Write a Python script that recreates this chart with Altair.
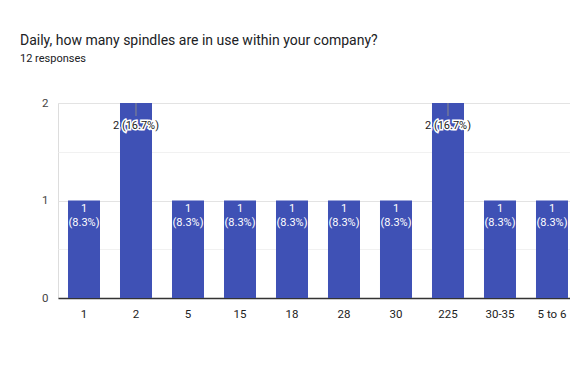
import altair as alt
import pandas as pd

categories = ["1", "2", "5", "15", "18", "28", "30", "225", "30-35", "5 to 6"]
counts = [1, 2, 1, 1, 1, 1, 1, 2, 1, 1]
total = 12
title_text = "Daily, how many spindles are in use within your company?"
subtitle_text = "12 responses"

rows = []
for c, n in zip(categories, counts):
    pct = f"{n / total * 100:.1f}%"
    rows.append({
        "cat": c,
        "n": n,
        "inside": [str(n), f"({pct})"] if n == 1 else "",
        "outside": f"{n} ({pct})" if n == 2 else "",
    })
df = pd.DataFrame(rows)

FONT = "Roboto"
x = alt.X("cat:N", sort=categories, title=None,
          scale=alt.Scale(paddingInner=0.3846, paddingOuter=0.1154, align=0.833),
          axis=alt.Axis(labelAngle=0, labelFontSize=11.5, labelColor="#222222", labelFont=FONT,
                        ticks=False, domainColor="#333333", domainWidth=1.5, labelPadding=10))
y = alt.Y("n:Q", title=None,
          scale=alt.Scale(domain=[0, 2], nice=False),
          axis=alt.Axis(values=[0, 0.5, 1, 1.5, 2],
                        labelExpr="datum.value % 1 == 0 ? format(datum.value, 'd') : ''",
                        labelFontSize=11.5, labelColor="#444444", labelFont=FONT, ticks=False, domain=False,
                        gridColor={"condition": {"test": "datum.value % 1 == 0", "value": "#e3e3e3"},
                                   "value": "#f1f1f1"},
                        labelPadding=10))

base = alt.Chart(df)
bars = base.mark_bar(color="#3f51b5").encode(x=x, y=y)

inside = base.transform_filter("datum.n == 1").mark_text(
    color="white", font=FONT, fontSize=11, baseline="alphabetic", dy=11, lineHeight=14
).encode(x=alt.X("cat:N", sort=categories), y="n:Q", text="inside")

stem = base.transform_filter("datum.n == 2").mark_rule(color="#8a8a8a", strokeWidth=1).encode(
    x=alt.X("cat:N", sort=categories), y="n:Q", y2=alt.value(13))

halo = base.transform_filter("datum.n == 2").mark_text(
    color="white", stroke="white", strokeWidth=3, font=FONT, fontSize=11, baseline="alphabetic", dy=26
).encode(x=alt.X("cat:N", sort=categories), y="n:Q", text="outside")
outside = base.transform_filter("datum.n == 2").mark_text(
    color="#222222", font=FONT, fontSize=11, baseline="alphabetic", dy=26
).encode(x=alt.X("cat:N", sort=categories), y="n:Q", text="outside")

chart = alt.layer(bars, inside, stem, halo, outside).properties(
    width=512, height=195,
    autosize=alt.AutoSizeParams(type="none"),
    padding={"left": 50, "top": 95, "right": 0, "bottom": 50},
    title=alt.TitleParams(
        text=title_text, subtitle=subtitle_text, anchor="start", frame="group", dx=-38, offset=33,
        font=FONT, fontSize=14, fontWeight="normal", color="#202124",
        subtitleFont=FONT, subtitleFontSize=11, subtitleColor="#202124", subtitlePadding=5,
    ),
).configure_view(stroke="#ececec").configure(background="white")

chart.save("out.html", embed_options={"renderer": "svg", "actions": False})
